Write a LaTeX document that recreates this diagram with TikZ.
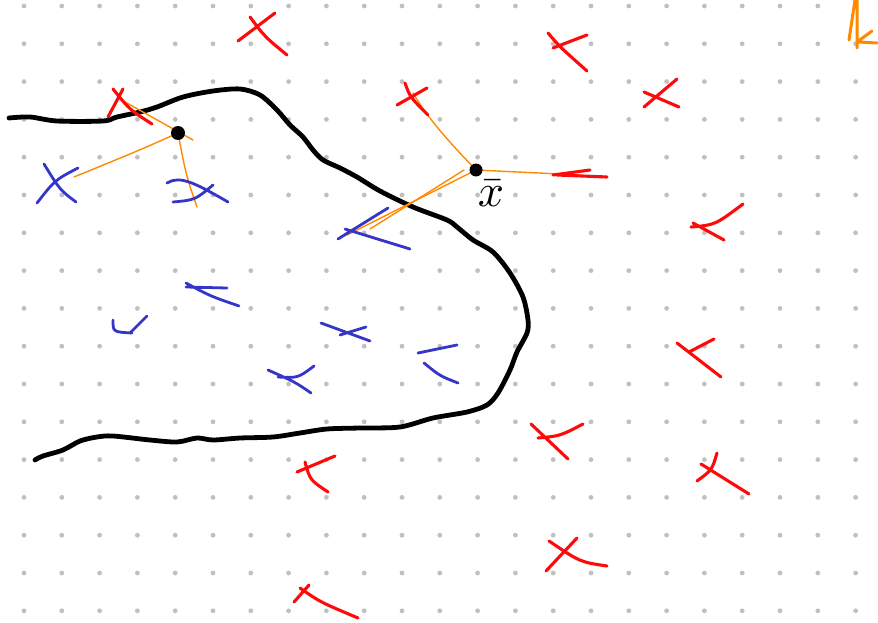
\documentclass[tikz,border=0pt]{standalone}
\usetikzlibrary{calc}
\definecolor{redx}{HTML}{FF0A0A}
\definecolor{bluex}{HTML}{3535C8}
\definecolor{dist}{HTML}{FF8A00}
\definecolor{griddot}{HTML}{C0C0C0}

\tikzset{
  redmark/.style={redx,line width=3.1pt,line cap=round},
  bluemark/.style={bluex,line width=2.8pt,line cap=round},
  distline/.style={dist,line width=1.4pt,line cap=round},
  border/.style={black,line width=4.8pt,line cap=round,line join=round}
}

\begin{document}
\begin{tikzpicture}[x=1pt,y=-1pt]
  \useasboundingbox (0,0) rectangle (878,623);
  % dotted paper
  \foreach \i in {0,...,22}
    \foreach \j in {0,...,16}
      \fill[griddot] (24+37.8*\i,6+37.8*\j) circle[radius=2.4pt];

  % decision boundary
  \draw[border] plot[smooth,tension=0.5] coordinates {
    (9,118) (30,117) (57,121) (103,121) (117,117) (140,112) (157,107) (183,97)
    (213,91) (240,89) (260,95) (277,110) (290,125) (303,137) (313,150) (323,160)
    (340,168) (357,177) (380,191) (413,207) (447,220) (457,227) (473,240) (493,252)
    (510,273) (523,297) (528,320) (527,333) (517,352) (510,370) (498,393) (487,405)
    (467,412) (433,418) (400,427) (360,428) (327,429) (300,433) (273,437) (240,438)
    (213,440) (197,438) (177,442) (150,440) (113,436) (97,437) (80,441) (63,450)
    (43,456) (35,460)};

  \coordinate (p) at (178,133);
  \coordinate (xbar) at (476,170);
  \coordinate (pa) at (74,177);
  \coordinate (pb) at (125,102);
  \coordinate (pc) at (193,140);
  \coordinate (pd) at (197,207);
  \coordinate (qa) at (413,93);
  \coordinate (qb) at (580,175);
  \coordinate (qc) at (347,235);
  \coordinate (qd) at (370,229);

  % distances
  \draw[distline] (pa) .. controls (140,150) .. (p);
  \draw[distline] (pb) -- (pc);
  \draw[distline] (p) .. controls (186,175) .. (pd);
  \draw[distline] (qa) .. controls (430,122) and (455,148) .. (xbar);
  \draw[distline] (xbar) -- (qb);
  \draw[distline] (xbar) -- (qc);
  \draw[distline] ($(xbar)+(-12,0)$) -- (qd);

  % red class
  \draw[redmark] (238,41) -- (275,13) (250,17) .. controls (265,37) .. (287,55);
  \draw[redmark] (108,117) -- (123,89) (113,89) .. controls (130,110) .. (152,124);
  \draw[redmark] (548,33) .. controls (560,47) .. (587,71) (553,48) -- (587,35);
  \draw[redmark] (644,107) -- (677,79) (644,92) -- (679,107);
  \draw[redmark] (397,105) -- (427,88) (405,83) .. controls (410,97) .. (428,115);
  \draw[redmark] (553,175) -- (590,170) (557,175) -- (607,177);
  \draw[redmark] (691,227) .. controls (715,225) .. (743,204) (693,223) -- (724,240);
  \draw[redmark] (677,343) -- (721,377) (689,352) -- (714,339);
  \draw[redmark] (697,481) .. controls (712,470) .. (717,453) (701,464) -- (749,494);
  \draw[redmark] (531,424) -- (568,459) (538,438) .. controls (560,436) .. (583,424);
  \draw[redmark] (546,571) -- (577,538) (549,541) .. controls (580,562) .. (607,566);
  \draw[redmark] (297,472) -- (335,456) (305,462) .. controls (310,480) .. (328,492);
  \draw[redmark] (294,602) -- (309,585) (300,588) .. controls (320,602) .. (358,618);

  % blue class
  \draw[bluemark] (37,203) .. controls (55,180) .. (78,168) (44,164) .. controls (60,190) .. (76,202);
  \draw[bluemark] (167,183) .. controls (180,175) and (195,183) .. (228,202)
    (173,202) .. controls (195,200) .. (213,185);
  \draw[bluemark] (338,239) -- (388,208) (345,229) -- (410,249);
  \draw[bluemark] (186,283) .. controls (210,296) .. (239,306) (186,287) -- (227,288);
  \draw[bluemark] (113,320) .. controls (113,332) .. (132,333) (130,333) -- (147,316);
  \draw[bluemark] (321,323) -- (370,341) (340,335) -- (366,327);
  \draw[bluemark] (268,370) .. controls (295,382) .. (311,393) (278,377) .. controls (298,378) .. (314,366);
  \draw[bluemark] (418,353) -- (457,345) (424,363) .. controls (440,376) .. (458,383);

  % corner mark
  \draw[dist,line width=3pt,line cap=round] (857,0) -- (857,48) (855,0) -- (849,40)
    (857,42) -- (872,31) (858,42) -- (877,43);

  \fill (p) circle[radius=7pt];
  \fill (xbar) circle[radius=6.5pt];
  \node[scale=4.6,inner sep=0pt] (xlabel) at (491,193) {$\bar{x}$};
\end{tikzpicture}
\end{document}
